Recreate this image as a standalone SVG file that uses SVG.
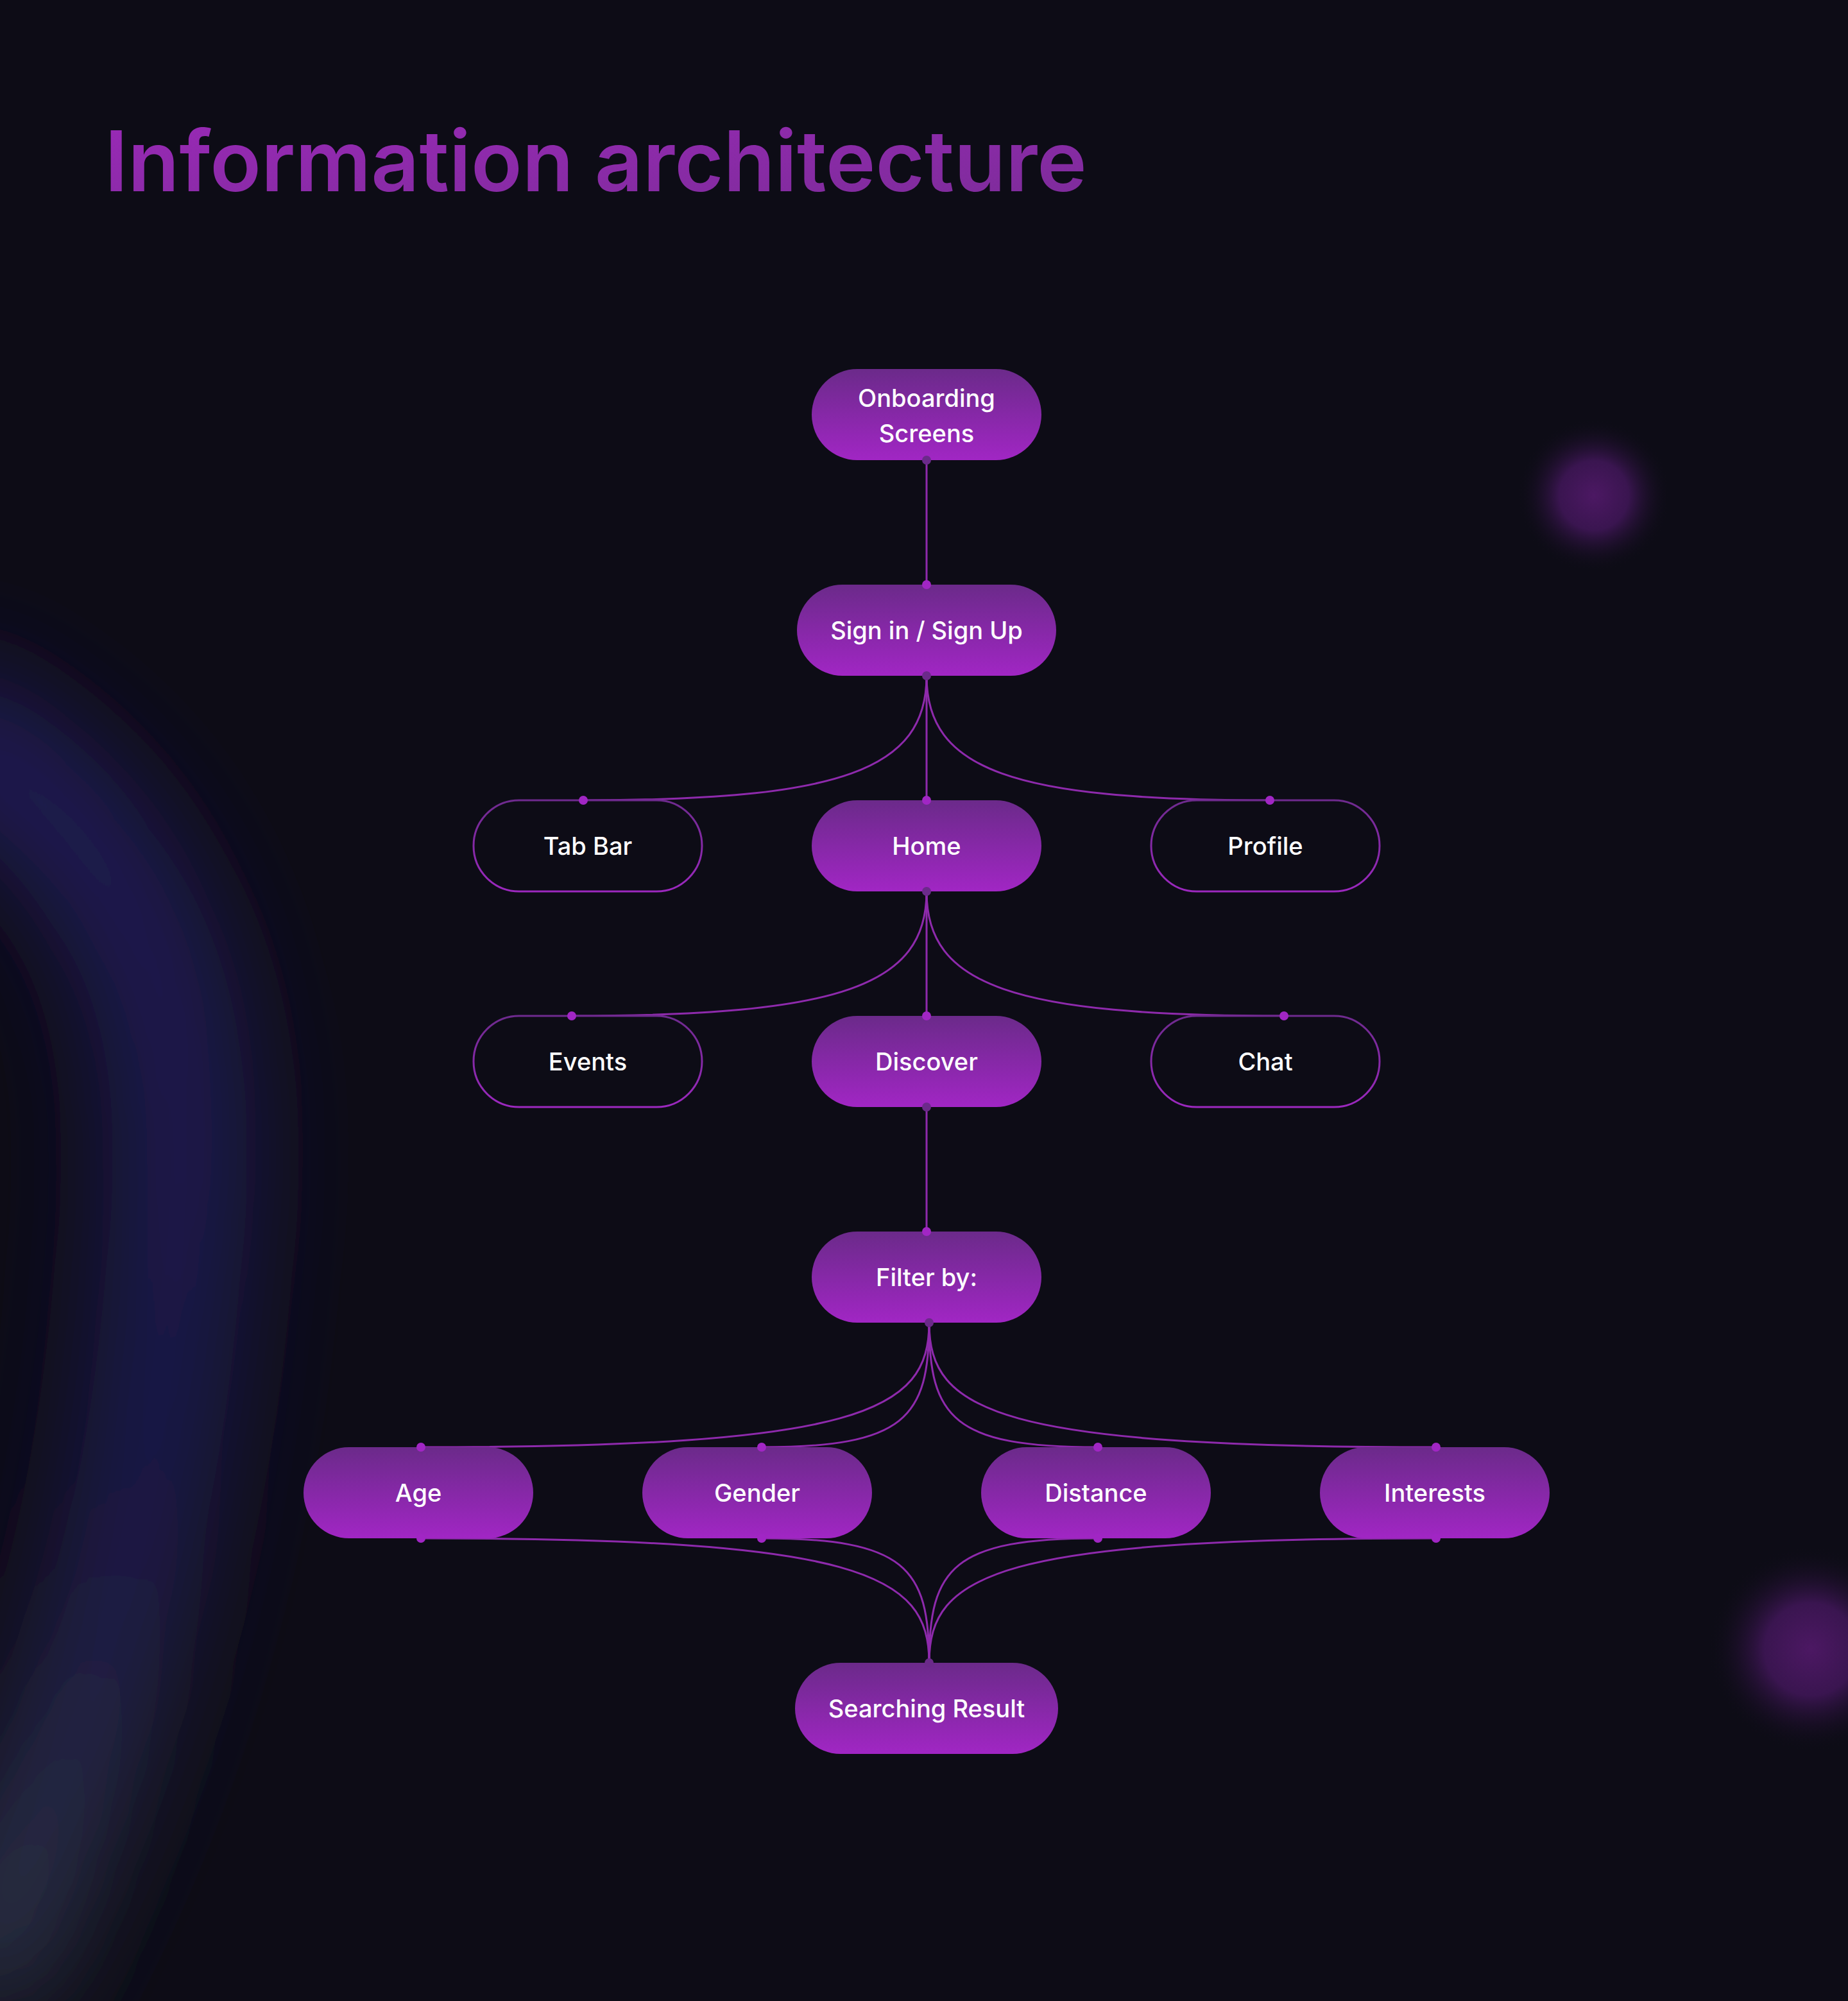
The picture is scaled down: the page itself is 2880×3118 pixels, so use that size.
<svg xmlns="http://www.w3.org/2000/svg" width="2880" height="3118" viewBox="0 0 2880 3118">
<defs>
<style>
.nt{font-family:Inter,"Noto Sans","Liberation Sans",sans-serif;font-size:38px;font-weight:500;fill:#ffffff;text-anchor:middle}
.fill{fill:url(#ng)}
.out{fill:#0d0c16;stroke:url(#og);stroke-width:3}
.ln{fill:none;stroke:#8e2aac;stroke-width:3}
.dt{fill:#6b2a8a}
.db{fill:#a126c4}
</style>
<linearGradient id="ng" x1="0" y1="0" x2="0" y2="1"><stop offset="0" stop-color="#6b2a8a"/><stop offset="1" stop-color="#a126c4"/></linearGradient>
<linearGradient id="og" x1="0" y1="0" x2="0" y2="1"><stop offset="0" stop-color="#6e2a8e"/><stop offset="1" stop-color="#9c28bf"/></linearGradient>
<linearGradient id="tg" x1="0" y1="0" x2="1" y2="1"><stop offset="0" stop-color="#9a29b7"/><stop offset="1" stop-color="#7c2c99"/></linearGradient>
<linearGradient id="bandg" x1="0" y1="0" x2="0" y2="1"><stop offset="0" stop-color="#201b58"/><stop offset="0.6" stop-color="#1f1a4e"/><stop offset="1" stop-color="#2e3548"/></linearGradient>
<radialGradient id="blob"><stop offset="0" stop-color="#4c1863"/><stop offset="0.45" stop-color="#3a1550"/><stop offset="1" stop-color="#0d0c16" stop-opacity="0"/></radialGradient>
<filter id="blur" filterUnits="userSpaceOnUse" x="-700" y="500" width="1800" height="2900"><feGaussianBlur stdDeviation="85"/></filter>
</defs>
<rect width="2880" height="3118" fill="#0d0c16"/>
<g id="background">
<path d="M -140,1120 Q 350,1320 270,1980 Q 220,2620 -60,3100" fill="none" stroke="url(#bandg)" stroke-width="210" filter="url(#blur)"/>
<circle cx="2484" cy="772" r="120" fill="url(#blob)"/>
<circle cx="2822" cy="2570" r="160" fill="url(#blob)"/>
</g>
<text x="163" y="298" font-family="Inter,'Noto Sans','Liberation Sans',sans-serif" font-size="131" font-weight="600" fill="url(#tg)">Information architecture</text>
<g id="connectors">
<path class="ln" d="M1444,717 L1444,911"/>
<path class="ln" d="M1444,1053 C1444,1200 1310,1247 909,1247"/>
<path class="ln" d="M1444,1053 L1444,1247"/>
<path class="ln" d="M1444,1053 C1444,1200 1578,1247 1979,1247"/>
<path class="ln" d="M1444,1389 C1444,1536 1310,1583 891,1583"/>
<path class="ln" d="M1444,1389 L1444,1583"/>
<path class="ln" d="M1444,1389 C1444,1536 1578,1583 2001,1583"/>
<path class="ln" d="M1444,1725 L1444,1919"/>
<path class="ln" d="M1448,2061 C1448,2200 1340,2255 656,2255"/>
<path class="ln" d="M1448,2061 C1448,2210 1410,2255 1187,2255"/>
<path class="ln" d="M1448,2061 C1448,2210 1486,2255 1711,2255"/>
<path class="ln" d="M1448,2061 C1448,2200 1556,2255 2238,2255"/>
<path class="ln" d="M656,2397 C1340,2397 1448,2452 1448,2591"/>
<path class="ln" d="M1187,2397 C1410,2397 1448,2442 1448,2591"/>
<path class="ln" d="M1711,2397 C1486,2397 1448,2442 1448,2591"/>
<path class="ln" d="M2238,2397 C1556,2397 1448,2452 1448,2591"/>
</g>
<g id="n-onboarding"><rect class="fill" x="1265" y="575" width="358" height="142" rx="71"/><text class="nt" x="1444" y="634">Onboarding</text><text class="nt" x="1444" y="689">Screens</text></g>
<g id="n-signin"><rect class="fill" x="1242" y="911" width="404" height="142" rx="71"/><text class="nt" x="1444" y="996">Sign in / Sign Up</text></g>
<g id="n-tabbar"><rect class="out" x="738" y="1247" width="356" height="142" rx="71"/><text class="nt" x="916" y="1332">Tab Bar</text></g>
<g id="n-home"><rect class="fill" x="1265" y="1247" width="358" height="142" rx="71"/><text class="nt" x="1444" y="1332">Home</text></g>
<g id="n-profile"><rect class="out" x="1794" y="1247" width="356" height="142" rx="71"/><text class="nt" x="1972" y="1332">Profile</text></g>
<g id="n-events"><rect class="out" x="738" y="1583" width="356" height="142" rx="71"/><text class="nt" x="916" y="1668">Events</text></g>
<g id="n-discover"><rect class="fill" x="1265" y="1583" width="358" height="142" rx="71"/><text class="nt" x="1444" y="1668">Discover</text></g>
<g id="n-chat"><rect class="out" x="1794" y="1583" width="356" height="142" rx="71"/><text class="nt" x="1972" y="1668">Chat</text></g>
<g id="n-filter"><rect class="fill" x="1265" y="1919" width="358" height="142" rx="71"/><text class="nt" x="1444" y="2004">Filter by:</text></g>
<g id="n-age"><rect class="fill" x="473" y="2255" width="358" height="142" rx="71"/><text class="nt" x="652" y="2340">Age</text></g>
<g id="n-gender"><rect class="fill" x="1001" y="2255" width="358" height="142" rx="71"/><text class="nt" x="1180" y="2340">Gender</text></g>
<g id="n-distance"><rect class="fill" x="1529" y="2255" width="358" height="142" rx="71"/><text class="nt" x="1708" y="2340">Distance</text></g>
<g id="n-interests"><rect class="fill" x="2057" y="2255" width="358" height="142" rx="71"/><text class="nt" x="2236" y="2340">Interests</text></g>
<g id="n-result"><rect class="fill" x="1239" y="2591" width="410" height="142" rx="71"/><text class="nt" x="1444" y="2676">Searching Result</text></g>
<g id="dots">
<circle class="dt" cx="1444" cy="717" r="7"/><circle class="db" cx="1444" cy="911" r="7"/>
<circle class="dt" cx="1444" cy="1053" r="7"/>
<circle class="db" cx="909" cy="1247" r="7"/><circle class="db" cx="1444" cy="1247" r="7"/><circle class="db" cx="1979" cy="1247" r="7"/>
<circle class="dt" cx="1444" cy="1389" r="7"/>
<circle class="db" cx="891" cy="1583" r="7"/><circle class="db" cx="1444" cy="1583" r="7"/><circle class="db" cx="2001" cy="1583" r="7"/>
<circle class="dt" cx="1444" cy="1725" r="7"/><circle class="db" cx="1444" cy="1919" r="7"/>
<circle class="dt" cx="1448" cy="2061" r="7"/>
<circle class="db" cx="656" cy="2255" r="7"/><circle class="db" cx="1187" cy="2255" r="7"/><circle class="db" cx="1711" cy="2255" r="7"/><circle class="db" cx="2238" cy="2255" r="7"/>
<circle class="db" cx="656" cy="2397" r="7"/><circle class="db" cx="1187" cy="2397" r="7"/><circle class="db" cx="1711" cy="2397" r="7"/><circle class="db" cx="2238" cy="2397" r="7"/>
<circle class="dt" cx="1448" cy="2591" r="7"/>
</g>
</svg>
